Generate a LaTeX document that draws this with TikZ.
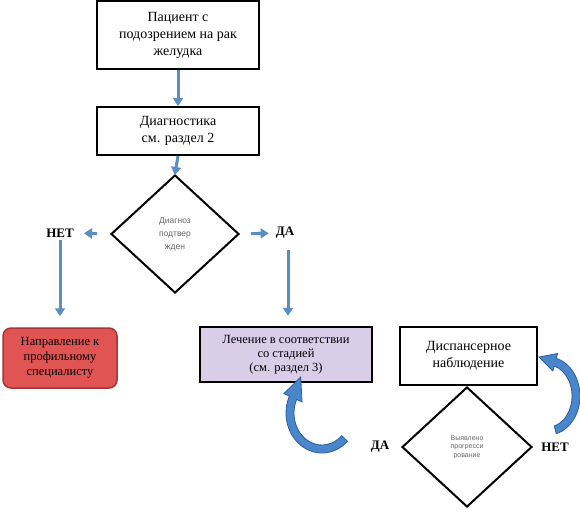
\documentclass[tikz,border=0pt]{standalone}
\usepackage{fontspec}
\setmainfont{Liberation Serif}
\newfontfamily\dsans{Liberation Sans}
\usetikzlibrary{arrows.meta,shapes.geometric}
\definecolor{arrblue}{HTML}{5B8CC4}
\definecolor{bigblue}{HTML}{4A86CC}
\definecolor{bigedge}{HTML}{2E5E98}
\definecolor{redfill}{HTML}{E05454}
\definecolor{rededge}{HTML}{A83434}
\definecolor{purfill}{HTML}{D9CDE8}
\tikzset{
  arr/.style={draw=arrblue, line width=3pt, -{Triangle[width=10pt,length=8pt]}},
  box/.style={draw=black, fill=white, align=center, inner sep=0pt, font=\fontsize{14}{17}\selectfont},
  dia/.style={draw=black, diamond, line width=2pt, inner sep=0pt, align=center, font=\dsans\color{black!65}},
  lbl/.style={font=\fontsize{13}{15}\selectfont\bfseries, inner sep=1pt},
  bigarrow/.style={fill=bigblue, draw=bigedge, line width=0.8pt}
}
\begin{document}
\begin{tikzpicture}[x=1pt,y=-1pt]
\useasboundingbox (0,0) rectangle (580,509);
% boxes
\node[box, line width=1.2pt, minimum width=162pt, minimum height=68pt] (b1) at (178,35)
  {Пациент с\\подозрением на рак\\желудка};
\node[box, line width=2pt, minimum width=162pt, minimum height=48pt] (b2) at (178,131)
  {Диагностика\\см. раздел 2};
\node[dia, minimum width=128pt, minimum height=118pt, font=\dsans\fontsize{8.5}{13}\selectfont\color{black!60}] (d1) at (175,234)
  {Диагноз\\подтвер\\жден};
\node[lbl] (n1) at (60,233) {НЕТ};
\node[lbl] (y1) at (285,233) {ДА};
\node[box, draw=rededge, fill=redfill, rounded corners=8pt, line width=1.5pt,
  minimum width=114pt, minimum height=60pt, font=\fontsize{12.5}{15}\selectfont] (red) at (60,358)
  {Направление к\\профильному\\специалисту};
\node[box, fill=purfill, line width=2.4pt, minimum width=172pt, minimum height=55pt,
  font=\fontsize{12.5}{14}\selectfont] (pur) at (286,354.5)
  {Лечение в соответствии\\со стадией\\(см. раздел 3)};
\node[box, line width=1.8pt, minimum width=137pt, minimum height=58pt] (disp) at (468.5,356)
  {Диспансерное\\наблюдение};
\node[dia, minimum width=130pt, minimum height=120pt, font=\dsans\fontsize{7}{8.5}\selectfont\color{black!60}] (d2) at (467,447)
  {Выявлено\\прогресси\\рование};
\node[lbl] (y2) at (380,447) {ДА};
\node[lbl] (n2) at (555,447) {НЕТ};
% straight arrows
\draw[arr] (b1.south) -- (b2.north);
\draw[arr, shorten >=-1pt] (b2.south) -- (d1.north);
\draw[arr, shorten <=13pt, shorten >=9pt] (d1.west) -- (n1.east);
\draw[arr, shorten <=11pt, shorten >=6pt] (d1.east) -- (y1.west);
\draw[arr, shorten <=2pt, shorten >=11pt] (n1.south) -- (red.north);
\draw[arr, shorten <=10pt, shorten >=10pt] (y1.south -| pur.north) ++(2,0) coordinate (ya) -- (ya |- pur.north);
% curved arrow left (ДА -> treatment)
\path[bigarrow]
  ({322+36*cos(45)},{413+40*sin(45)}) arc[start angle=45,end angle=205,x radius=36,y radius=40]
  -- ({322+42*cos(205)},{413+46*sin(205)})
  -- (300.7,377)
  -- ({322+22*cos(205)},{413+26*sin(205)})
  -- ({322+28*cos(205)},{413+32*sin(205)})
  arc[start angle=205,end angle=45,x radius=28,y radius=32] -- cycle;
% curved arrow right (НЕТ -> dispensary)
\path[bigarrow]
  ({548+32*cos(75)},{396+39*sin(75)}) arc[start angle=75,end angle=-75,x radius=32,y radius=39]
  -- ({548+37*cos(-75)},{396+44*sin(-75)})
  -- (539,357)
  -- ({548+19*cos(-75)},{396+26*sin(-75)})
  -- ({548+24*cos(-75)},{396+31*sin(-75)})
  arc[start angle=-75,end angle=75,x radius=24,y radius=31] -- cycle;
\end{tikzpicture}
\end{document}
